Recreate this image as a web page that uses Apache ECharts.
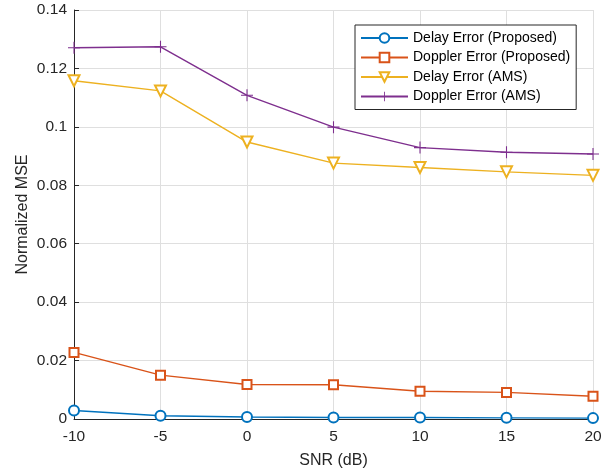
<!DOCTYPE html>
<html>
<head>
<meta charset="utf-8">
<script src="https://cdn.jsdelivr.net/npm/echarts@6/dist/echarts.min.js"></script>
<style>
html,body{margin:0;padding:0;background:#fff;}
#c{width:616px;height:474px;}
</style>
</head>
<body>
<div id="c"></div>
<script>
const snr = [-10, -5, 0, 5, 10, 15, 20];
const delayProposed = [0.0029, 0.0011, 0.0007, 0.0005, 0.0005, 0.0004, 0.0003];
const dopplerProposed = [0.0228, 0.0150, 0.0118, 0.0117, 0.0095, 0.0091, 0.0078];
const delayAMS = [0.1158, 0.1123, 0.0948, 0.0876, 0.0861, 0.0846, 0.0834];
const dopplerAMS = [0.1271, 0.1274, 0.1108, 0.0999, 0.0929, 0.0913, 0.0907];
const seriesNames = ['Delay Error (Proposed)', 'Doppler Error (Proposed)', 'Delay Error (AMS)', 'Doppler Error (AMS)'];
const xTicks = {min: -10, max: 20, step: 5};
const yTicks = {min: 0, max: 0.14, step: 0.02};

const FONT = '"Liberation Sans", Arial, Helvetica, sans-serif';
const AX = '#262626';
const colors = ['#0072BD', '#D95319', '#EDB120', '#7E2F8E'];
const plusPath = 'path://M-0.09,-1L0.09,-1L0.09,-0.09L1,-0.09L1,0.09L0.09,0.09L0.09,1L-0.09,1L-0.09,0.09L-1,0.09L-1,-0.09L-0.09,-0.09Z';

function pairs(vals){ return snr.map((x,i)=>[x, vals[i]]); }

function mk(name, vals, color, symbol, size, rot){
  return {
    name: name, type: 'line', data: pairs(vals),
    symbol: symbol, symbolSize: size, symbolRotate: rot || 0,
    showAllSymbol: true,
    lineStyle: {color: color, width: 1.4},
    itemStyle: {color: color, borderColor: color, borderWidth: symbol === plusPath ? 0 : 1.4},
    emphasis: {disabled: true},
    animation: false
  };
}

const chart = echarts.init(document.getElementById('c'), null, {renderer: 'canvas'});
chart.setOption({
  backgroundColor: '#fff',
  animation: false,
  grid: {left: 74, right: 23, top: 10, bottom: 55},
  legend: {
    orient: 'vertical', left: 355, top: 25,
    padding: [6, 6, 6, 5],
    itemWidth: 47, itemHeight: 12, itemGap: 5.5,
    borderColor: '#262626', borderWidth: 1, backgroundColor: '#fff',
    textStyle: {fontFamily: FONT, fontSize: 14, color: '#000'},
    data: seriesNames
  },
  xAxis: {
    type: 'value', min: xTicks.min, max: xTicks.max, interval: xTicks.step,
    name: 'SNR (dB)', nameLocation: 'middle', nameGap: 34, nameMoveOverlap: false,
    nameTextStyle: {fontFamily: FONT, fontSize: 16, color: AX},
    axisLine: {show: true, onZero: false, lineStyle: {color: AX, width: 1}},
    axisTick: {show: true, inside: true, length: 5, lineStyle: {color: AX}},
    axisLabel: {fontFamily: FONT, fontSize: 15.5, color: AX, margin: 10},
    splitLine: {show: true, lineStyle: {color: '#dfdfdf', width: 1}}
  },
  yAxis: {
    type: 'value', min: yTicks.min, max: yTicks.max, interval: yTicks.step,
    name: 'Normalized MSE', nameLocation: 'middle', nameGap: 43, nameMoveOverlap: false,
    nameTextStyle: {fontFamily: FONT, fontSize: 16, color: AX},
    axisLine: {show: true, onZero: false, lineStyle: {color: AX, width: 1}},
    axisTick: {show: true, inside: true, length: 5, lineStyle: {color: AX}},
    axisLabel: {fontFamily: FONT, fontSize: 15.5, color: AX, margin: 7,
      formatter: v => String(parseFloat(v.toFixed(4)))},
    splitLine: {show: true, lineStyle: {color: '#dfdfdf', width: 1}}
  },
  series: [
    mk(seriesNames[0], delayProposed, colors[0], 'emptyCircle', 10),
    mk(seriesNames[1], dopplerProposed, colors[1], 'emptyRect', 9),
    mk(seriesNames[2], delayAMS, colors[2], 'emptyTriangle', 11, 180),
    mk(seriesNames[3], dopplerAMS, colors[3], plusPath, 12)
  ]
});
</script>
</body>
</html>
